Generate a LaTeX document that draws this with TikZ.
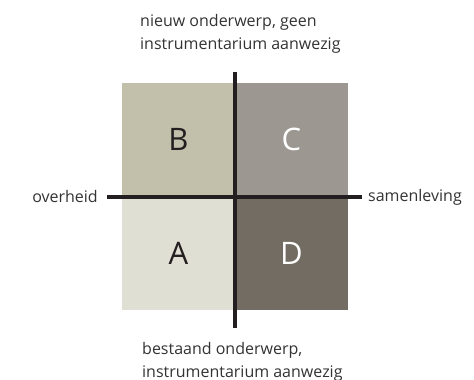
\documentclass[tikz,border=0pt]{standalone}
\usepackage{fontspec}
\setmainfont{Open Sans}
\usetikzlibrary{positioning}
\definecolor{quadA}{HTML}{DFDFD3}
\definecolor{quadB}{HTML}{C2C0AA}
\definecolor{quadC}{HTML}{9C9791}
\definecolor{quadD}{HTML}{736C62}
\definecolor{axis}{HTML}{231F20}
\definecolor{txt}{HTML}{333333}

\begin{document}
\begin{tikzpicture}[x=1pt, y=1pt,
    quad/.style={minimum width=113pt, minimum height=113.5pt, inner sep=0pt,
      font=\fontsize{31}{31}\selectfont},
    axisline/.style={line width=4pt, color=axis},
    lbl/.style={font=\fontsize{16}{23}\selectfont, text=txt, inner sep=0pt, align=left}]
  \useasboundingbox (0,0) rectangle (474,380);
  % quadrants
  \node [quad, fill=quadB, text=axis] (b) at (178.5,240.25) {B};
  \node [quad, fill=quadC, text=white] (c) at (291.5,240.25) {C};
  \node [quad, fill=quadA, text=axis] (a) at (178.5,126.75) {A};
  \node [quad, fill=quadD, text=white] (d) at (291.5,126.75) {D};
  % axes
  \coordinate (top) at (235,308);
  \coordinate (bot) at (235,52);
  \coordinate (lft) at (107,183);
  \coordinate (rgt) at (362,183);
  \draw [axisline] (top) -- (bot);
  \draw [axisline] (lft) -- (rgt);
  \node [lbl, left=9pt of lft] (overheid) {overheid};
  \node [lbl, right=6pt of rgt] (samenleving) {samenleving};
  \node [lbl, anchor=north west] (nieuw) at (140,366)
    {nieuw onderwerp, geen\\instrumentarium aanwezig};
  \node [lbl, anchor=north west] (bestaand) at (142,38)
    {bestaand onderwerp,\\instrumentarium aanwezig};
\end{tikzpicture}
\end{document}
